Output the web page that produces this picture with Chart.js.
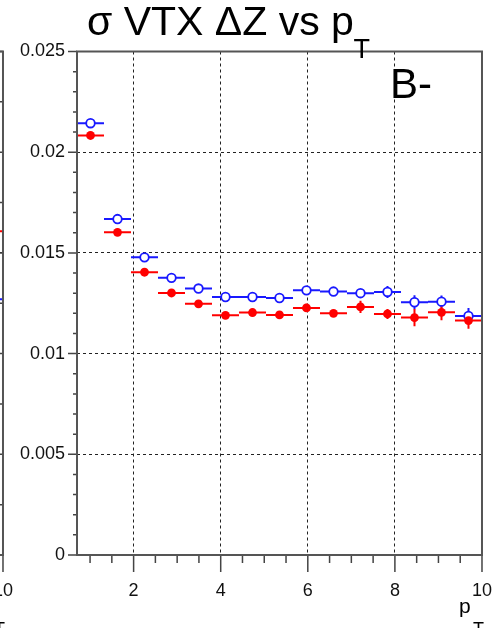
<!DOCTYPE html>
<html>
<head>
<meta charset="utf-8">
<script src="https://cdn.jsdelivr.net/npm/chart.js@4.4.0/dist/chart.umd.min.js"></script>
<style>
  html, body { margin: 0; padding: 0; background: #fff; overflow: hidden; }
  #wrap { position: relative; width: 493px; height: 628px; overflow: hidden; }
  #left { position: absolute; left: -479px; top: 0; }
  #main { position: absolute; left: 0; top: 0; }
</style>
</head>
<body>
<div id="wrap">
  <canvas id="left" width="493" height="628"></canvas>
  <canvas id="main" width="493" height="628"></canvas>
</div>
<script>
// 15 pT bins between 0.7 and 10
var binCenters = [1.01, 1.63, 2.25, 2.87, 3.49, 4.11, 4.73, 5.35, 5.97, 6.59, 7.21, 7.83, 8.45, 9.07, 9.69];
var binHalf = 0.31;

var blueVals = [0.02144, 0.01668, 0.01478, 0.01376, 0.01323, 0.01281, 0.01281, 0.01276, 0.01314, 0.01308, 0.01300, 0.01306, 0.01255, 0.01258, 0.01187];
var blueErr  = [0.00005, 0.00005, 0.00005, 0.00006, 0.00007, 0.00008, 0.0001, 0.00012, 0.00015, 0.00015, 0.0002, 0.0003, 0.00035, 0.0003, 0.0004];
var redVals  = [0.02083, 0.01602, 0.01404, 0.01301, 0.01247, 0.01190, 0.01204, 0.01192, 0.01227, 0.01200, 0.01232, 0.01197, 0.01179, 0.01205, 0.01164];
var redErr   = [0.00005, 0.00005, 0.00005, 0.00006, 0.00007, 0.00008, 0.0001, 0.00012, 0.0002, 0.00015, 0.0003, 0.00025, 0.00043, 0.0004, 0.0004];

var xTickLabels = ['2', '4', '6', '8', '10'];
var yTickLabels = ['0', '0.005', '0.01', '0.015', '0.02', '0.025'];
var xMinorStep = 0.5;
var yMinorStep = 0.001;

// neighbour pad on the left, only the end of its last bin is visible
var leftCenters = [9.69];
var leftBlue = [0.0127];
var leftRed = [0.01607];

var FONT = '"Liberation Sans", Arial, sans-serif';
var BLUE = 'rgb(25,25,255)';
var RED = 'rgb(255,0,0)';

function labelFor(v, labels) {
  for (var i = 0; i < labels.length; i++) {
    if (Math.abs(Number(labels[i]) - v) < 1e-7) return labels[i];
  }
  return '';
}

function innerMajor(v, labels, max) {
  return labelFor(v, labels) !== '' && v > 1e-7 && Math.abs(v - max) > 1e-7;
}

var rootPad = {
  id: 'rootPad',
  beforeDatasetsDraw: function (chart) {
    var ctx = chart.ctx, xs = chart.scales.x, ys = chart.scales.y;
    chart.data.datasets.forEach(function (ds) {
      ctx.save();
      ctx.strokeStyle = ds.borderColor;
      ctx.lineWidth = 2;
      ds.data.forEach(function (p, i) {
        var px = xs.getPixelForValue(p.x), py = ys.getPixelForValue(p.y);
        ctx.beginPath();
        ctx.moveTo(xs.getPixelForValue(p.x - binHalf), py);
        ctx.lineTo(xs.getPixelForValue(p.x + binHalf), py);
        ctx.moveTo(px, ys.getPixelForValue(p.y - ds.errY[i]));
        ctx.lineTo(px, ys.getPixelForValue(p.y + ds.errY[i]));
        ctx.stroke();
      });
      ctx.restore();
    });
  },
  afterDraw: function (chart, args, opts) {
    var ctx = chart.ctx, xs = chart.scales.x, ys = chart.scales.y, a = chart.chartArea;
    ctx.save();
    ctx.strokeStyle = '#444';
    ctx.lineWidth = 1.5;
    ctx.beginPath();
    xs.ticks.forEach(function (t) {
      var px = xs.getPixelForValue(t.value);
      var len = labelFor(t.value, xTickLabels) !== '' ? 17 : 8;
      ctx.moveTo(px, a.bottom);
      ctx.lineTo(px, a.bottom + len);
    });
    ys.ticks.forEach(function (t) {
      var py = ys.getPixelForValue(t.value);
      var len = labelFor(t.value, yTickLabels) !== '' ? 9 : 4;
      ctx.moveTo(a.left - len, py);
      ctx.lineTo(a.left, py);
    });
    if (opts.rightTicks) {
      for (var k = 0; k <= 10; k++) {
        var ry = ys.getPixelForValue(k * 0.0025);
        ctx.moveTo(a.right - 6, ry);
        ctx.lineTo(a.right, ry);
      }
    }
    ctx.stroke();

    ctx.strokeStyle = '#555';
    ctx.lineWidth = 2;
    ctx.strokeRect(a.left, a.top, a.right - a.left, a.bottom - a.top);

    ctx.fillStyle = '#000';
    ctx.textBaseline = 'alphabetic';
    if (opts.title) {
      ctx.font = '41px ' + FONT;
      ctx.fillText('σ VTX ΔZ vs p', 87, 35);
      ctx.font = '27px ' + FONT;
      ctx.fillText('T', 353.5, 58);
      ctx.font = '42px ' + FONT;
      ctx.fillText(opts.tag, 390, 98);
    }
    ctx.font = '21px ' + FONT;
    ctx.fillText('p', a.right - 23, 613);
    ctx.font = '18px ' + FONT;
    ctx.fillText('T', a.right - 9, 635);
    ctx.restore();
  }
};

function points(xs, ys) {
  return xs.map(function (x, i) { return { x: x, y: ys[i] }; });
}

function drawPad(canvasId, centers, blue, bErr, red, rErr, padOpts) {
  var xTicks = [], yTicks = [];
  for (var i = 2; i <= 20; i++) xTicks.push(i * xMinorStep);
  for (var j = 0; j <= 25; j++) yTicks.push(j * yMinorStep);

  var datasets = [{
    label: 'open',
    data: points(centers, blue),
    errY: bErr,
    borderColor: BLUE,
    backgroundColor: '#fff',
    pointRadius: 4.3,
    pointBorderWidth: 1.8,
    order: 1
  }, {
    label: 'filled',
    data: points(centers, red),
    errY: rErr,
    borderColor: RED,
    backgroundColor: RED,
    pointRadius: 4.4,
    pointBorderWidth: 0,
    order: 0
  }];

  return new Chart(document.getElementById(canvasId).getContext('2d'), {
    type: 'scatter',
    data: { datasets: datasets },
    options: {
      responsive: false,
      animation: false,
      devicePixelRatio: 1,
      layout: { padding: { top: 51.5, right: 11, bottom: 0, left: 0 } },
      plugins: {
        legend: { display: false },
        tooltip: { enabled: false },
        rootPad: padOpts
      },
      scales: {
        x: {
          type: 'linear',
          min: 0.7,
          max: 10,
          afterBuildTicks: function (s) { s.ticks = xTicks.map(function (v) { return { value: v }; }); },
          afterFit: function (s) { s.height = 73; },
          border: { display: false, dash: [3, 3] },
          grid: {
            drawTicks: true,
            tickLength: 24,
            tickColor: 'rgba(0,0,0,0)',
            lineWidth: 1,
            color: function (c) {
              return c.tick && innerMajor(c.tick.value, xTickLabels, 10) ? '#222' : 'rgba(0,0,0,0)';
            }
          },
          ticks: {
            autoSkip: false,
            maxRotation: 0,
            padding: 1,
            color: '#111',
            font: { family: FONT, size: 18 },
            callback: function (v) { return labelFor(v, xTickLabels); }
          }
        },
        y: {
          type: 'linear',
          min: 0,
          max: 0.025,
          afterBuildTicks: function (s) { s.ticks = yTicks.map(function (v) { return { value: v }; }); },
          afterFit: function (s) { s.width = 77; },
          border: { display: false, dash: [3, 3] },
          grid: {
            drawTicks: true,
            tickLength: 10,
            tickColor: 'rgba(0,0,0,0)',
            lineWidth: 1,
            color: function (c) {
              return c.tick && innerMajor(c.tick.value, yTickLabels, 0.025) ? '#222' : 'rgba(0,0,0,0)';
            }
          },
          ticks: {
            autoSkip: false,
            padding: 2,
            color: '#111',
            font: { family: FONT, size: 18 },
            callback: function (v) { return labelFor(v, yTickLabels); }
          }
        }
      }
    },
    plugins: [rootPad]
  });
}

drawPad('left', leftCenters, leftBlue, [0.0003], leftRed, [0.0003], { title: false, rightTicks: true });
drawPad('main', binCenters, blueVals, blueErr, redVals, redErr, { title: true, tag: 'B-', rightTicks: false });
</script>
</body>
</html>
